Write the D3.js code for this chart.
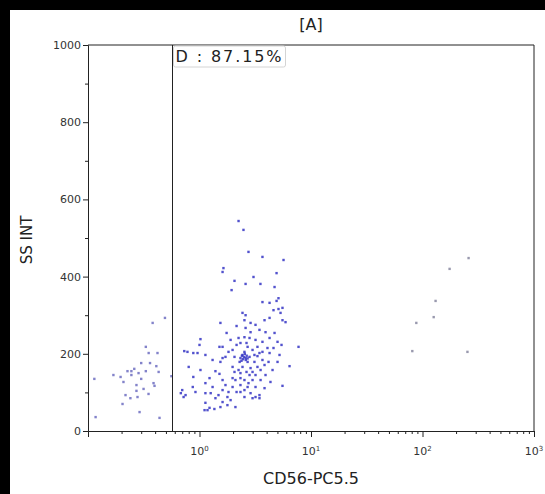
<!DOCTYPE html>
<html>
<head>
<meta charset="utf-8">
<script src="https://cdn.jsdelivr.net/npm/d3@7"></script>
<style>
  body { margin: 0; background: #000; }
  svg { display: block; }
</style>
</head>
<body>
<svg id="chart" width="545" height="494"></svg>
<script>
var title = "[A]";
var xLabel = "CD56-PC5.5";
var yLabel = "SS INT";
var gateValue = 0.57;
var gateText = "D : 87.15%";
var xDecades = [1, 10, 100, 1000];
var yTicks = [0, 200, 400, 600, 800, 1000];

// events left of the gate (CD56, SS INT)
var ungatedEvents = [
  [0.49,293],[0.38,280],[0.33,218],[0.35,202],[0.42,202],[0.30,176],[0.36,176],[0.41,168],
  [0.43,153],[0.33,155],[0.26,161],[0.245,155],[0.226,155],[0.284,150],[0.245,145],[0.169,145],
  [0.196,140],[0.114,135],[0.30,135],[0.208,127],[0.272,119],[0.387,124],[0.395,117],[0.315,109],
  [0.272,104],[0.217,93],[0.349,96],[0.278,88],[0.24,85],[0.204,70],[0.29,49],[0.117,36],
  [0.438,34],[0.56,142]
];

// events inside gate D
var gatedEvents = [
  [2.24,544],[2.48,521],[2.75,464],[3.67,451],[5.67,443],[1.64,422],[1.61,412],[4.91,409],
  [3.05,399],[2.06,389],[2.59,381],[3.52,381],[1.94,365],[4.71,373],[5.11,344],[4.91,337],
  [3.67,334],[4.25,332],[5.55,319],[5.11,316],[4.61,313],[2.43,306],[2.59,300],[1.54,280],
  [5.91,282],[7.73,218],[6.42,168],[5.55,117],
  [1.02,238],[0.73,207],[0.78,205],[0.88,202],[0.96,202],[1.51,218],[1.61,218],[1.13,197],
  [1.31,184],[1.61,189],[1.71,192],[1.98,210],[2.06,192],[1.54,179],[0.80,166],[1.02,158],
  [1.39,155],[1.98,166],[2.06,153],[0.88,140],[1.23,137],[1.51,148],[1.61,132],[0.70,106],
  [0.75,93],[1.13,124],[1.31,114],[1.71,119],[1.98,114],[0.92,101],[1.13,98],[1.61,106],
  [2.10,132],[1.39,85],[1.78,88],[1.13,73],[1.61,75],[1.90,80],[1.23,60],[1.18,54],
  [1.54,62],[1.78,67],[2.10,62],[0.87,114],[0.68,98],[0.72,88],[1.11,54],[1.36,57],[1.00,223],
  [5.33,306],[5.55,287],[2.53,287],[2.87,280],[3.18,275],[3.83,287],[4.25,293],[2.59,267],
  [2.87,256],[3.45,262],[3.91,256],[4.71,254],[2.53,243],[2.81,241],[3.18,236],[3.67,231],
  [4.25,241],[5.01,231],[2.33,228],[2.70,218],[3.31,218],[4.07,215],[2.53,205],[2.43,197],
  [2.33,189],[2.59,189],[2.81,192],[3.11,197],[3.45,202],[4.25,202],[5.22,197],[2.29,179],
  [2.70,179],[3.11,179],[3.67,184],[5.01,179],[2.43,166],[2.87,163],[3.31,166],[3.53,158],
  [4.52,158],[2.33,150],[2.81,145],[3.18,145],[3.91,145],[2.53,132],[2.99,132],[3.53,132],
  [4.33,127],[2.33,119],[2.70,114],[3.18,114],[3.83,111],[2.87,98],[3.45,93],[2.53,88],
  [2.99,85],[3.18,88],[3.45,85],[2.33,101],
  [2.40,195],[2.50,192],[2.45,186],[2.60,184],[2.55,200],[2.65,195],[2.38,182],[2.70,188],
  [1.75,254],[2.15,272],[1.90,236],[2.24,241],[1.82,205],[2.15,223],[2.64,228],[2.99,210],
  [2.24,158],[2.64,153],[2.99,153],[1.98,137],[2.33,137],[2.75,124],[2.15,101],[2.53,106],
  [1.82,101],[1.48,93],[1.26,98],[3.83,171],[4.16,179],[4.61,215],[5.44,223],[3.31,194],
  [3.67,205]
];

// bright CD56 events on the right
var brightEvents = [
  [259,448],[175,420],[131,337],[126,295],[88,280],[81,207],[253,205]
];

var svg = d3.select("#chart"),
    width = +svg.attr("width"),
    height = +svg.attr("height");

var margin = {top: 45, right: 11, bottom: 63, left: 88};
var font = "DejaVu Sans, Verdana, sans-serif";

// white panel inside the black border
svg.append("rect")
  .attr("x", 10).attr("y", 10)
  .attr("width", width - 10).attr("height", height - 10)
  .attr("fill", "#fff");

var x = d3.scaleLog().domain([0.1, 1000]).range([margin.left, width - margin.right]);
var y = d3.scaleLinear().domain([0, 1000]).range([height - margin.bottom, margin.top]);

// events
var dots = svg.append("g");
function drawDots(data, color, op) {
  dots.selectAll(null)
    .data(data)
    .enter().append("rect")
      .attr("x", function(d) { return x(d[0]) - 1.2; })
      .attr("y", function(d) { return y(d[1]) - 1.2; })
      .attr("width", 2.4).attr("height", 2.4)
      .attr("fill", color)
      .attr("opacity", op);
}
drawDots(ungatedEvents, "#5a5ab8", 0.75);
drawDots(gatedEvents, "#3434c4", 0.85);
drawDots(brightEvents, "#80809a", 0.8);

// y axis, major + minor ticks
var yAxis = svg.append("g")
  .attr("transform", "translate(" + margin.left + ",0)")
  .call(d3.axisLeft(y).tickValues(yTicks).tickSize(5).tickPadding(2).tickFormat(d3.format("d")));
svg.append("g")
  .attr("transform", "translate(" + margin.left + ",0)")
  .call(d3.axisLeft(y).tickValues(d3.range(100, 1000, 200)).tickSize(3).tickFormat(""))
  .select(".domain").remove();
yAxis.selectAll("text").attr("font-family", font).attr("font-size", 11).attr("fill", "#333");

// x axis, decades + minor ticks
var xAxis = svg.append("g")
  .attr("transform", "translate(0," + (height - margin.bottom) + ")")
  .call(d3.axisBottom(x).tickValues(xDecades).tickSize(6).tickFormat(""));
svg.append("g")
  .attr("transform", "translate(0," + (height - margin.bottom) + ")")
  .call(d3.axisBottom(x)
    .tickValues(x.ticks().filter(function(t) { return xDecades.indexOf(t) < 0 && t > 0.1; }))
    .tickSize(3).tickFormat(""))
  .select(".domain").remove();

xDecades.forEach(function(t) {
  var lab = svg.append("text")
    .attr("x", x(t))
    .attr("y", height - margin.bottom + 24)
    .attr("text-anchor", "middle")
    .attr("font-family", font)
    .attr("font-size", 11)
    .attr("fill", "#333");
  lab.append("tspan").text("10");
  lab.append("tspan").attr("dy", -4).attr("font-size", 7).text(Math.log10(t));
});

svg.selectAll(".domain, .tick line").attr("stroke", "#222");

// top and right frame
svg.append("path")
  .attr("d", "M" + margin.left + "," + margin.top + "H" + (width - margin.right) + "V" + (height - margin.bottom))
  .attr("fill", "none").attr("stroke", "#222");

// gate D
var gx = Math.round(x(gateValue)) + 0.5;
svg.append("line")
  .attr("x1", gx).attr("x2", gx)
  .attr("y1", margin.top).attr("y2", height - margin.bottom)
  .attr("stroke", "#222");
svg.append("rect")
  .attr("x", gx + 1).attr("y", margin.top + 1)
  .attr("width", 112).attr("height", 21)
  .attr("rx", 2)
  .attr("fill", "#fff").attr("stroke", "#d4d4d4");
svg.append("text")
  .attr("x", gx + 3).attr("y", margin.top + 17)
  .attr("font-family", font).attr("font-size", 16)
  .attr("textLength", 106).attr("lengthAdjust", "spacing")
  .attr("fill", "#222")
  .text(gateText);

// titles
svg.append("text")
  .attr("x", 311).attr("y", 30)
  .attr("text-anchor", "middle")
  .attr("font-family", font).attr("font-size", 16).attr("fill", "#222")
  .text(title);
svg.append("text")
  .attr("x", (margin.left + width - margin.right) / 2)
  .attr("y", height - 10)
  .attr("text-anchor", "middle")
  .attr("font-family", font).attr("font-size", 16).attr("fill", "#222")
  .text(xLabel);
svg.append("text")
  .attr("transform", "translate(32," + 240 + ") rotate(-90)")
  .attr("text-anchor", "middle")
  .attr("font-family", font).attr("font-size", 15).attr("fill", "#222")
  .text(yLabel);
</script>
</body>
</html>
